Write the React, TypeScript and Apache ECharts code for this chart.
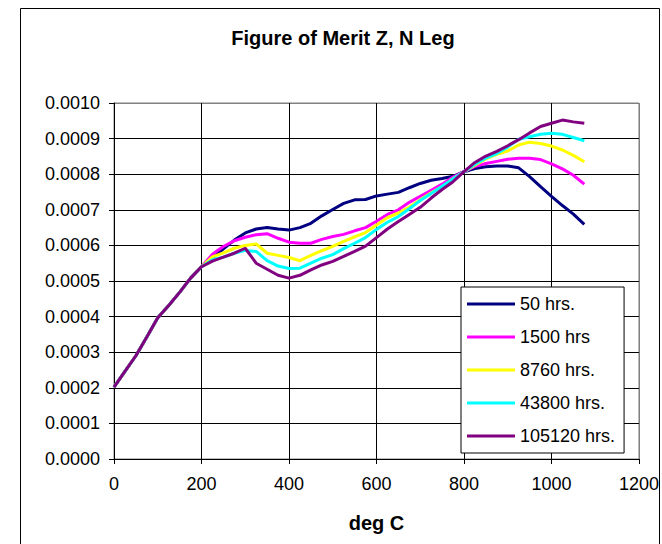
import React, { useEffect, useRef } from "react";
import * as echarts from "echarts";

const temps = [0, 25, 50, 75, 100, 125, 150, 175, 200, 225, 250, 275, 300, 325, 350, 375, 400, 425, 450, 475, 500, 525, 550, 575, 600, 625, 650, 675, 700, 725, 750, 775, 800, 825, 850, 875, 900, 925, 950, 975, 1000, 1025, 1050, 1075];

// shared portion 0..200 degC
const common = [0.000202, 0.000246, 0.00029, 0.000343, 0.000397, 0.000431, 0.000468, 0.000508, 0.00054];

// 225..1075 degC
const hrs50 = [0.000565, 0.00059, 0.000615, 0.000635, 0.000646, 0.00065, 0.000646, 0.000643, 0.00065, 0.000662, 0.000683, 0.000701, 0.000718, 0.000728, 0.000729, 0.000739, 0.000744, 0.000749, 0.000762, 0.000774, 0.000783, 0.000788, 0.000794, 0.000807, 0.000816, 0.000821, 0.000823, 0.000823, 0.000818, 0.000793, 0.000765, 0.000738, 0.000712, 0.000688, 0.000659];
const hrs1500 = [0.000575, 0.000597, 0.000613, 0.000623, 0.00063, 0.000633, 0.00062, 0.000609, 0.000606, 0.000606, 0.000617, 0.000625, 0.000631, 0.000641, 0.00065, 0.000668, 0.000687, 0.0007, 0.000721, 0.000738, 0.000755, 0.000772, 0.000792, 0.000807, 0.000822, 0.00083, 0.000836, 0.000842, 0.000845, 0.000845, 0.000841, 0.000829, 0.000815, 0.000797, 0.000772];
const hrs8760 = [0.000568, 0.000579, 0.000592, 0.0006, 0.000604, 0.000578, 0.000572, 0.000566, 0.000557, 0.000572, 0.000585, 0.000597, 0.000611, 0.000624, 0.000636, 0.000657, 0.000678, 0.000691, 0.000708, 0.000728, 0.000748, 0.000765, 0.000787, 0.000807, 0.000825, 0.000843, 0.000856, 0.000865, 0.000882, 0.00089, 0.000886, 0.000879, 0.000868, 0.000853, 0.000835];
const hrs43800 = [0.00056, 0.000567, 0.000578, 0.000586, 0.000583, 0.000557, 0.000542, 0.000535, 0.000536, 0.00055, 0.000564, 0.000574, 0.000591, 0.000606, 0.000622, 0.000645, 0.000665, 0.000681, 0.000703, 0.000726, 0.000746, 0.000766, 0.000787, 0.000807, 0.000828, 0.000845, 0.000858, 0.000876, 0.000898, 0.000905, 0.000912, 0.000915, 0.000912, 0.000903, 0.000894];
const hrs105120 = [0.000556, 0.000567, 0.000578, 0.000592, 0.00055, 0.000533, 0.000516, 0.000508, 0.000516, 0.000531, 0.000545, 0.000555, 0.000569, 0.000583, 0.000598, 0.000622, 0.000646, 0.000667, 0.000687, 0.000707, 0.000733, 0.000757, 0.000779, 0.000807, 0.000833, 0.000851, 0.000864, 0.00088, 0.000897, 0.000916, 0.000934, 0.000943, 0.000952, 0.000947, 0.000943];

const seriesNames = ["50 hrs.", "1500 hrs", "8760 hrs.", "43800 hrs.", "105120 hrs."];
const seriesValues = [hrs50, hrs1500, hrs8760, hrs43800, hrs105120];
const seriesColors = ["#000080", "#FF00FF", "#FFFF00", "#00FFFF", "#800080"];

const FONT = "'Liberation Sans', Arial, sans-serif";

export default function App() {
  const ref = useRef<HTMLDivElement>(null);
  useEffect(() => {
    if (!ref.current) return;
    const chart = echarts.init(ref.current, null, { renderer: "svg" });
    const series = seriesNames.map((name, i) => ({
      name,
      type: "line",
      showSymbol: false,
      symbol: "none",
      data: temps.map((t, k) => [t, k < common.length ? common[k] : seriesValues[i][k - common.length]]),
      lineStyle: { color: seriesColors[i], width: 3 },
      itemStyle: { color: seriesColors[i] },
    }));
    const yColors = Array.from({ length: 11 }, (_, i) => (i === 10 ? "#808080" : "#000000"));
    const xColors = Array.from({ length: 7 }, (_, i) => (i === 6 ? "#808080" : "#000000"));
    chart.setOption({
      animation: false,
      backgroundColor: "#ffffff",
      textStyle: { fontFamily: FONT },
      grid: {
        left: 114,
        top: 103,
        width: 530,
        height: 356,
        show: true,
        borderColor: "#808080",
        borderWidth: 1,
        backgroundColor: "#ffffff",
      },
      graphic: [
        {
          type: "rect",
          shape: { x: 20.5, y: 8.5, width: 639, height: 600 },
          style: { fill: "none", stroke: "#000000", lineWidth: 1 },
          silent: true,
        },
        {
          type: "text",
          style: {
            text: "Figure of Merit Z, N Leg",
            x: 343,
            y: 38,
            textAlign: "center",
            textVerticalAlign: "middle",
            font: `bold 20px ${FONT}`,
            fill: "#000000",
          },
        },
      ],
      legend: {
        orient: "vertical",
        left: 461,
        top: 287,
        padding: [7, 9, 7, 6],
        icon: "rect",
        itemWidth: 48,
        itemHeight: 3,
        itemGap: 13,
        backgroundColor: "#ffffff",
        borderColor: "#000000",
        borderWidth: 1,
        borderRadius: 0,
        textStyle: { fontSize: 18, lineHeight: 20, color: "#000000", fontFamily: FONT },
        data: seriesNames,
      },
      xAxis: {
        type: "value",
        min: 0,
        max: 1200,
        interval: 200,
        name: "deg C",
        nameLocation: "middle",
        nameGap: 54,
        nameTextStyle: { fontSize: 20, fontWeight: "bold", color: "#000000", fontFamily: FONT },
        axisLine: { show: true, lineStyle: { color: "#000000", width: 1 } },
        axisTick: { show: true, inside: false, length: 5, lineStyle: { color: "#000000" } },
        axisLabel: {
          fontSize: 18,
          color: "#000000",
          margin: 16,
          fontFamily: FONT,
          formatter: (v: number) => String(Math.round(v)),
        },
        splitLine: { show: true, lineStyle: { color: xColors, width: 1 } },
      },
      yAxis: {
        type: "value",
        min: 0,
        max: 0.001,
        interval: 0.0001,
        axisLine: { show: true, lineStyle: { color: "#000000", width: 1 } },
        axisTick: { show: true, inside: false, length: 5, lineStyle: { color: "#000000" } },
        axisLabel: {
          fontSize: 18,
          color: "#000000",
          margin: 14,
          fontFamily: FONT,
          formatter: (v: number) => v.toFixed(4),
        },
        splitLine: { show: true, lineStyle: { color: yColors, width: 1 } },
      },
      series,
    });
    return () => chart.dispose();
  }, []);
  return (
    <div
      ref={ref}
      style={{ position: "fixed", left: 0, top: 0, width: 662, height: 544 }}
    />
  );
}
